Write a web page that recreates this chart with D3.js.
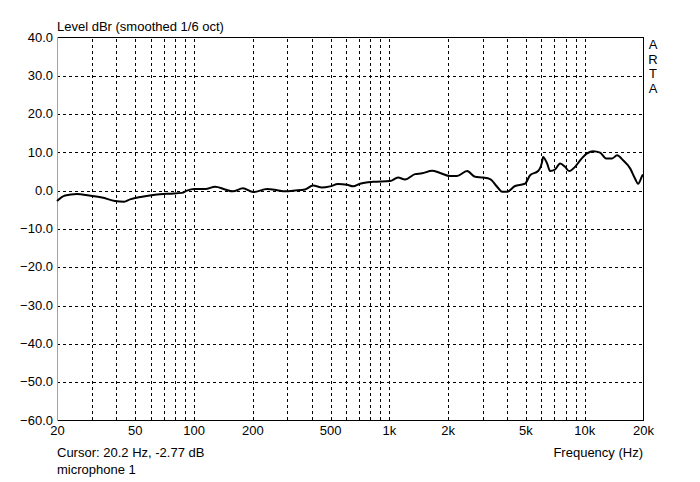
<!DOCTYPE html>
<html>
<head>
<meta charset="utf-8">
<script src="https://cdn.jsdelivr.net/npm/d3@7"></script>
<style>
  body { margin: 0; background: #fff; }
  svg { display: block; font-family: "Liberation Sans", Arial, sans-serif; }
  .grid line { stroke: #000; stroke-dasharray: 3,3; shape-rendering: crispEdges; }
  .grid path { display: none; }
  .lbl text { font-size: 13px; fill: #000; }
  .lbl path, .lbl line { display: none; }
</style>
</head>
<body>
<div id="chart"></div>
<script>
// datos (respuesta, suavizado 1/6 oct)
const freqs = [20, 22.0, 25.3, 29.2, 34.0, 39.6, 44.1, 47.3, 54.5, 63.5, 74.9, 87.3, 92.6, 101,
  115, 129, 145, 159, 179, 202, 238, 268, 294, 331, 372, 409, 455, 500, 549, 611, 656, 712, 830,
  1014, 1114, 1210, 1362, 1479, 1664, 1829, 2058, 2234, 2514, 2763, 3036, 3298, 3580, 3798, 4030,
  4428, 4808, 4982, 5284, 5808, 6088, 6158, 6456, 6688, 7094, 7526, 7982, 8368, 8982, 9528,
  10348, 11108, 12060, 12946, 13894, 14740, 15818, 17182, 18222, 18878, 19790, 20000]
const levels = [-2.8, -1.4, -1.0, -1.4, -1.9, -2.8, -3.0, -2.4, -1.7, -1.2, -0.9, -0.7, -0.1, 0.3,
  0.3, 0.9, 0.2, -0.3, 0.5, -0.5, 0.3, 0.0, -0.3, -0.1, 0.2, 1.2, 0.7, 1.0, 1.6, 1.4, 1.0, 1.7, 2.2,
  2.4, 3.3, 2.8, 4.2, 4.4, 5.1, 4.5, 3.7, 3.7, 5.0, 3.5, 3.3, 2.9, 0.9, -0.4, -0.4,
  1.1, 1.5, 1.7, 3.9, 5.0, 7.4, 8.7, 7.0, 5.0, 5.4, 7.0, 6.1, 5.0, 6.1, 7.8,
  9.6, 10.2, 9.8, 8.3, 8.3, 9.1, 7.8, 5.7, 3.0, 1.7, 3.7, 4.1]

// ticks
const yTicks = [40, 30, 20, 10, 0, -10, -20, -30, -40, -50, -60]
const xTicks = [20, 50, 100, 200, 500, 1000, 2000, 5000, 10000, 20000]
const xTickLabels = ["20", "50", "100", "200", "500", "1k", "2k", "5k", "10k", "20k"]
const xGrid = [30, 40, 50, 60, 70, 80, 90, 100, 200, 300, 400, 500, 600, 700, 800, 900,
  1000, 2000, 3000, 4000, 5000, 6000, 7000, 8000, 9000, 10000]
const yGrid = [30, 20, 10, 0, -10, -20, -30, -40, -50]

const width = 700
const height = 482
const margin = { top: 37, right: 57, bottom: 62, left: 57 }
const innerW = width - margin.left - margin.right
const innerH = height - margin.top - margin.bottom

const svg = d3.select("div#chart")
  .append("svg")
  .attr("width", width)
  .attr("height", height)

const g = svg.append("g")
  .attr("transform", `translate(${margin.left},${margin.top})`)

// escalas
const x = d3.scaleLog().domain([20, 20000]).range([0, innerW])
const y = d3.scaleLinear().domain([-60, 40]).range([innerH, 0])

// rejilla
g.append("g")
  .attr("class", "grid")
  .attr("transform", `translate(0.5,${innerH})`)
  .call(d3.axisBottom(x).tickValues(xGrid).tickSize(-innerH).tickFormat(""))
g.append("g")
  .attr("class", "grid")
  .attr("transform", "translate(0,0.5)")
  .call(d3.axisLeft(y).tickValues(yGrid).tickSize(-innerW).tickFormat(""))

// marco
g.append("rect")
  .attr("x", 0.5).attr("y", 0.5)
  .attr("width", innerW).attr("height", innerH)
  .attr("fill", "none").attr("stroke", "#000")
  .attr("shape-rendering", "crispEdges")
g.append("line")
  .attr("x1", 0.5).attr("x2", 0.5)
  .attr("y1", 0).attr("y2", innerH + 1)
  .attr("stroke", "#b8b800")
  .attr("shape-rendering", "crispEdges")

// etiquetas de ejes
g.append("g")
  .attr("class", "lbl")
  .call(d3.axisLeft(y).tickValues(yTicks).tickSize(0).tickPadding(4).tickFormat(d3.format(".1f")))
g.append("g")
  .attr("class", "lbl")
  .attr("transform", `translate(0,${innerH})`)
  .call(d3.axisBottom(x).tickValues(xTicks).tickSize(0).tickPadding(6)
    .tickFormat((d, i) => xTickLabels[i]))

// curva
const line = d3.line()
  .x((d, i) => x(freqs[i]))
  .y(d => y(d))
  .curve(d3.curveMonotoneX)
g.append("path")
  .datum(levels)
  .attr("fill", "none")
  .attr("stroke", "#000")
  .attr("stroke-width", 2)
  .attr("stroke-linejoin", "round")
  .attr("d", line)

// textos
const txt = svg.append("g").attr("font-size", 13).attr("fill", "#000")
txt.append("text").attr("x", 57).attr("y", 31).text("Level dBr (smoothed 1/6 oct)")
txt.append("text").attr("x", 57).attr("y", 457).text("Cursor: 20.2 Hz, -2.77 dB")
txt.append("text").attr("x", 57).attr("y", 474).text("microphone 1")
txt.append("text").attr("x", 643).attr("y", 457).attr("text-anchor", "end").text("Frequency (Hz)")
txt.selectAll("text.arta")
  .data("ARTA".split(""))
  .enter()
  .append("text")
  .attr("class", "arta")
  .attr("x", 653)
  .attr("y", (d, i) => 49 + i * 14.5)
  .attr("text-anchor", "middle")
  .text(d => d)
</script>
</body>
</html>
